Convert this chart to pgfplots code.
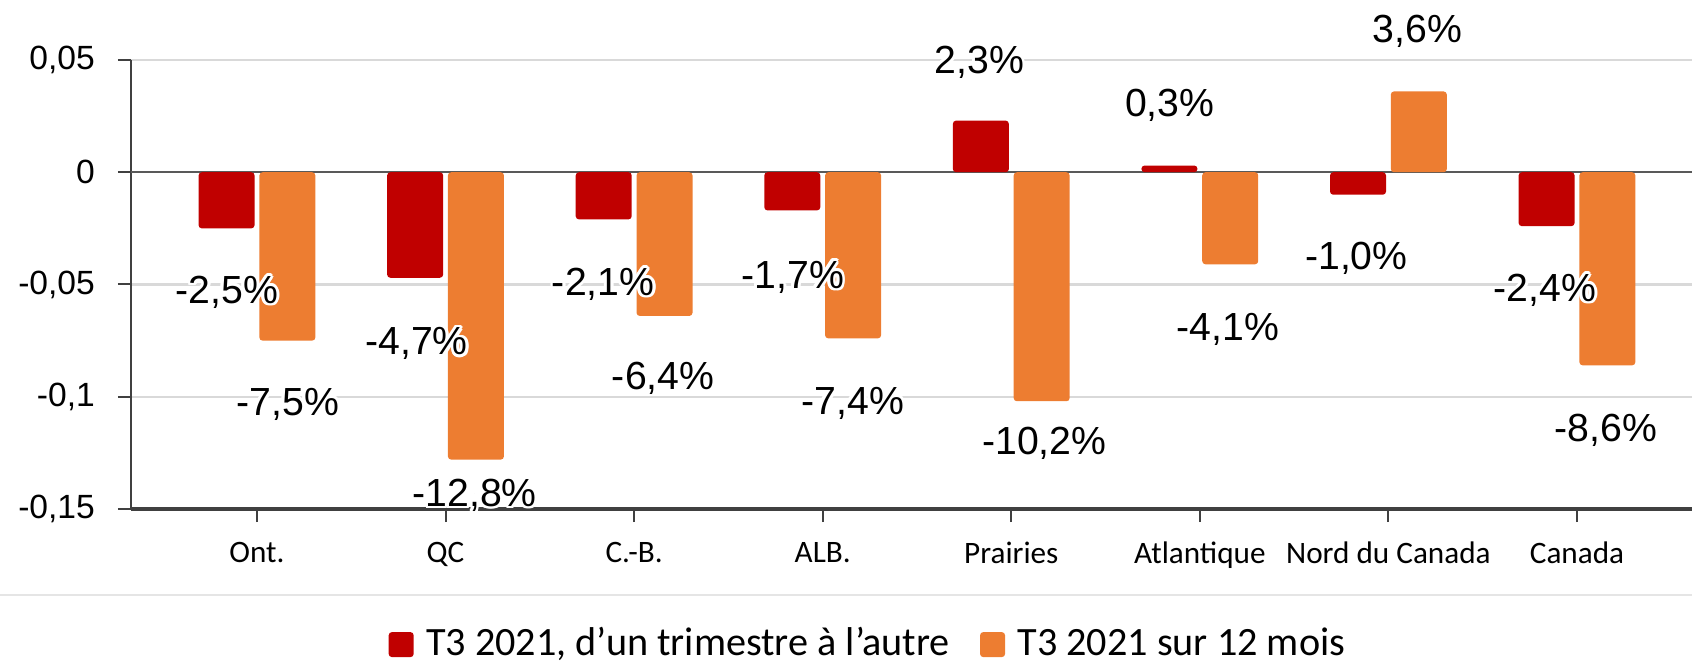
\documentclass[border=0pt]{standalone}
\usepackage{pgfplots}
\pgfplotsset{compat=1.18}
\usepackage{fontspec}
\setmainfont{Liberation Sans}
\newfontfamily\carlito{Carlito}
\usepackage{contour}
\contourlength{0.7pt}
\definecolor{barred}{HTML}{C00000}
\definecolor{barorange}{HTML}{ED7D31}

% label positions (placed where the original chart has them)
\pgfplotstableread{
x      y        v
0.841  -0.0529  -2.5
1.164  -0.1028  -7.5
1.846  -0.0760  -4.7
2.154  -0.1433  -12.8
2.836  -0.0493  -2.1
3.154  -0.0912  -6.4
3.841  -0.0462  -1.7
4.159  -0.1023  -7.4
4.830   0.0496   2.3
5.175  -0.1201  -10.2
5.841   0.0304   0.3
6.148  -0.0694  -4.1
6.830  -0.0377  -1.0
7.154   0.0634   3.6
7.830  -0.0520  -2.4
8.154  -0.1144  -8.6
}\labeltab

\begin{document}
\begin{tikzpicture}
\begin{axis}[
  scale only axis, width=390.25pt, height=112.25pt,
  xmin=0.332, xmax=8.61, ymin=-0.15, ymax=0.05,
  clip=false,
  axis lines=left,
  axis line style={-, black!75, line width=0.5pt},
  x axis line style={line width=0.8pt},
  tick align=outside, major tick length=3.25pt,
  tick style={black!75, line width=0.5pt},
  xtick={1,...,8},
  xticklabels={Ont.,QC,C.-B.,ALB.,Prairies,Atlantique,Nord du Canada,Canada},
  xticklabel style={font=\carlito\fontsize{7.8}{9}\selectfont, yshift=-1.5pt},
  ytick={-0.15,-0.1,-0.05,0.05},
  yticklabels={{-0,15},{-0,1},{-0,05},{0,05}},
  extra y ticks={0}, extra y tick labels={0},
  extra y tick style={grid style={black!65, line width=0.5pt}},
  yticklabel style={font=\fontsize{8.4}{10}\selectfont, xshift=-2.25pt},
  ymajorgrids, grid style={gray!30, line width=0.6pt},
  legend style={at={(0.474,-0.302)}, anchor=center, draw=none, fill=none,
    font=\carlito\fontsize{10.05}{12}\selectfont,
    /tikz/every even column/.append style={column sep=5.65pt}},
  legend columns=2,
  legend cell align=left,
  legend image code/.code={\fill[#1] (0pt,-3.125pt) rectangle (6.25pt,3.125pt);
    \path (7.35pt,0pt);},
]
\addplot[ybar, bar width=14pt, bar shift=-7.6pt, fill=barred, draw=none, rounded corners=0.8pt]
  coordinates {(1,-0.025)(2,-0.047)(3,-0.021)(4,-0.017)(5,0.023)(6,0.003)(7,-0.010)(8,-0.024)};
\addlegendentry{T3 2021, d’un trimestre à l’autre}
\addplot[ybar, bar width=14pt, bar shift=7.6pt, fill=barorange, draw=none, rounded corners=0.8pt]
  coordinates {(1,-0.075)(2,-0.128)(3,-0.064)(4,-0.074)(5,-0.102)(6,-0.041)(7,0.036)(8,-0.086)};
\addlegendentry{T3 2021 sur 12 mois}
\addplot[forget plot, only marks, mark=*, mark size=0pt, draw=none,
  point meta=explicit,
  nodes near coords={\contour{white}{\pgfmathprintnumber[fixed, fixed zerofill, precision=1, use comma, assume math mode=true]{\pgfplotspointmeta}\%}},
  nodes near coords align={center},
  every node near coord/.append style={anchor=center, inner sep=0pt, yshift=-0.6pt, font=\fontsize{9.8}{11}\selectfont, black}]
  table[x=x, y=y, meta=v] {\labeltab};
\coordinate (ll) at (rel axis cs:0,0);
\end{axis}
\draw[gray!20, line width=0.6pt] (ll) ++(-32.75pt,-21.5pt) -- ++(423pt,0);
\pgfresetboundingbox
\path[use as bounding box] (ll) ++(-32.75pt,-38.5pt) rectangle ++(423pt,165.75pt);
\end{tikzpicture}
\end{document}
